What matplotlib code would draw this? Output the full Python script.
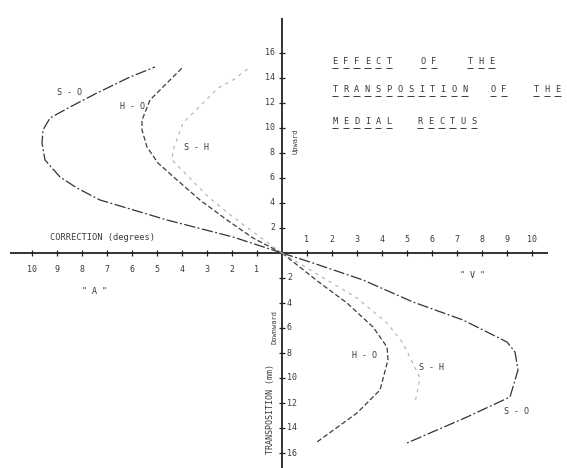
import matplotlib
matplotlib.use("Agg")
import matplotlib.pyplot as plt

# Correction (degrees) against transposition (mm) of the medial rectus.
# Upward transposition -> "A" side (left), downward -> "V" side (right).
so_up_corr = [0, -1.96, -4.6, -7.28, -8.2, -8.88, -9.48, -9.6, -9.56, -9.28, -8.48, -7.4, -6.08, -5.08]
so_up_mm = [0, 1.28, 2.64, 4.24, 5.2, 6.08, 7.44, 8.8, 9.84, 10.8, 11.68, 12.8, 14.08, 14.88]

ho_up_corr = [0, -1.16, -2.2, -3.28, -4.2, -4.96, -5.4, -5.6, -5.6, -5.28, -4.0]
ho_up_mm = [0, 1.2, 2.64, 4.24, 5.84, 7.2, 8.48, 9.84, 10.64, 12.24, 14.8]

sh_up_corr = [0, -0.88, -1.96, -2.9, -4.4, -4.36, -3.96, -2.56, -1.96, -1.28]
sh_up_mm = [0, 1.28, 2.88, 4.4, 7.44, 8.24, 10.4, 13.2, 13.84, 14.88]

so_dn_corr = [0, 1.24, 3.24, 5.24, 7.24, 9.0, 9.32, 9.44, 9.12, 7.4, 5.0]
so_dn_mm = [0, -0.8, -2.16, -3.92, -5.36, -7.12, -7.92, -9.36, -11.52, -13.12, -15.2]

ho_dn_corr = [0, 1.52, 2.6, 3.64, 4.2, 4.24, 3.92, 3.0, 1.4]
ho_dn_mm = [0, -2.4, -4.0, -5.92, -7.52, -8.56, -10.96, -12.8, -15.12]

sh_dn_corr = [0, 1.5, 3.0, 4.2, 4.84, 5.52, 5.32]
sh_dn_mm = [0, -1.8, -3.6, -5.6, -7.2, -10.0, -12.0]

x_right_ticks = [1, 2, 3, 4, 5, 6, 7, 8, 9, 10]
x_left_ticks = [-10, -9, -8, -7, -6, -5, -4, -3, -2, -1]
y_up_ticks = [2, 4, 6, 8, 10, 12, 14, 16]
y_dn_ticks = [-2, -4, -6, -8, -10, -12, -14, -16]

title_words = [
    ("EFFECT", 2.0, 15.28), ("OF", 5.52, 15.28), ("THE", 7.4, 15.28),
    ("TRANSPOSITION", 2.0, 13.04), ("OF", 8.32, 13.04), ("THE", 10.04, 13.04),
    ("MEDIAL", 2.0, 10.48), ("RECTUS", 5.4, 10.48),
]

INK = "#3a3a3a"
MONO = "DejaVu Sans Mono"

fig = plt.figure(figsize=(5.67, 4.68), dpi=100)
ax = fig.add_axes([0, 0, 1, 1])
ax.set_xlim(-282 / 25, (567 - 282) / 25)
ax.set_ylim(-(468 - 253) / 12.5, 253 / 12.5)
ax.axis("off")

# crossing axes
ax.plot([-10.88, 10.64], [0, 0], color="#222222", lw=1.3, solid_capstyle="butt")
ax.plot([0, 0], [-17.3, 18.8], color="#222222", lw=1.3, solid_capstyle="butt")

# tick marks
ax.plot(x_right_ticks + x_left_ticks, [0] * 20, ls="none", marker="|",
        ms=4, mew=0.9, color="#222222")
ax.plot([0] * 16, y_up_ticks + y_dn_ticks, ls="none", marker="_",
        ms=5, mew=0.9, color="#222222")

tick_kw = dict(fontsize=6, family=MONO, color=INK)
for v in x_right_ticks:
    ax.text(v, 1.04, str(v), ha="center", va="center", **tick_kw)
for v in x_left_ticks:
    ax.text(v, -1.28, str(abs(v)), ha="center", va="center", **tick_kw)
for v in y_up_ticks:
    ax.text(-0.28, v, str(v), ha="right", va="center", **tick_kw)
for v in y_dn_ticks:
    ax.text(0.2, v, str(abs(v)), ha="left", va="center", **tick_kw)

# curves
so_style = dict(color="#333333", lw=0.9, ls=(0, (9, 2, 1.5, 2)))
ho_style = dict(color="#3c3c3c", lw=0.9, ls=(0, (4, 2)))
sh_style = dict(color="#b0b0b0", lw=0.8, ls=(0, (3, 4)))
ax.plot(so_up_corr, so_up_mm, **so_style)
ax.plot(so_dn_corr, so_dn_mm, **so_style)
ax.plot(ho_up_corr, ho_up_mm, **ho_style)
ax.plot(ho_dn_corr, ho_dn_mm, **ho_style)
ax.plot(sh_up_corr, sh_up_mm, **sh_style)
ax.plot(sh_dn_corr, sh_dn_mm, **sh_style)

lab_kw = dict(fontsize=6, family=MONO, color=INK, ha="center", va="center")
ax.text(-8.48, 12.8, "S - O", **lab_kw)
ax.text(-5.96, 11.7, "H - O", **lab_kw)
ax.text(-3.4, 8.4, "S - H", **lab_kw)
ax.text(3.32, -8.24, "H - O", **lab_kw)
ax.text(6.0, -9.2, "S - H", **lab_kw)
ax.text(9.4, -12.7, "S - O", **lab_kw)

ax.text(-9.28, 1.2, "CORRECTION (degrees)", fontsize=6.3, family=MONO,
        color=INK, ha="left", va="center")
ax.text(-7.48, -3.12, '" A "', **lab_kw)
ax.text(7.64, -1.76, '" V "', **lab_kw)

ax.text(0.56, 8.96, "Upward", rotation=90, fontsize=5, family=MONO,
        color=INK, ha="center", va="center")
ax.text(-0.28, -5.92, "Downward", rotation=90, fontsize=5, family=MONO,
        color=INK, ha="center", va="center")
ax.text(-0.44, -12.5, "TRANSPOSITION (mm)", rotation=90, fontsize=6,
        family=MONO, color=INK, ha="center", va="center")

# title: widely spaced capitals, each one underlined
step = 0.432
for word, x0, y in title_words:
    for i, ch in enumerate(word):
        cx = x0 + step * i + 0.12
        ax.text(cx, y, ch, fontsize=6.2, family=MONO, color=INK,
                ha="center", va="center")
        ax.plot([cx - 0.13, cx + 0.13], [y - 0.5, y - 0.5], color=INK,
                lw=0.7, solid_capstyle="butt")

fig.savefig("out.png", dpi=100, facecolor="white")
